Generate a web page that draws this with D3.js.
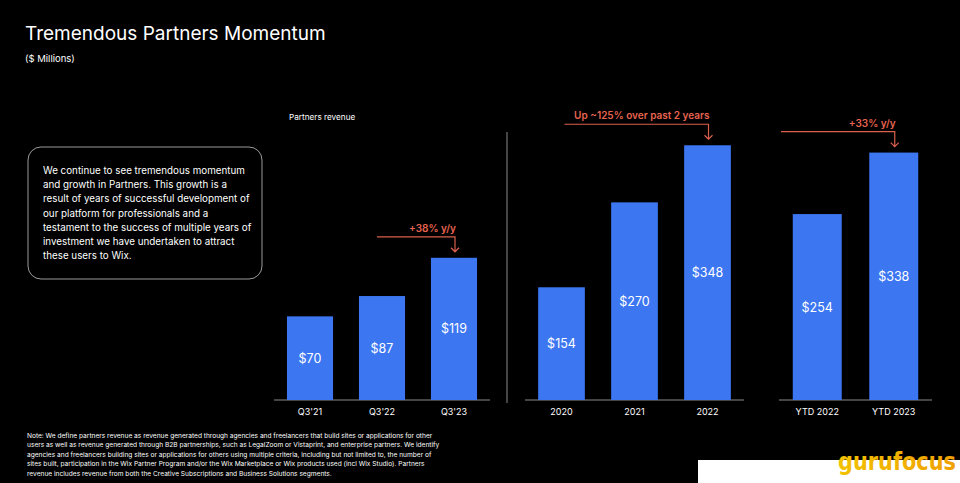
<!DOCTYPE html>
<html>
<head>
<meta charset="utf-8">
<title>Tremendous Partners Momentum</title>
<style>
  html, body { margin: 0; padding: 0; background: #000; }
  svg { font-family: Inter, "Open Sans", sans-serif; display: block; }
  .axis-line { stroke: #8a8a8a; stroke-width: 1.2; }
  .cat { fill: #fff; font-size: 9px; text-anchor: middle; }
  .val { fill: #fff; font-size: 12.5px; text-anchor: middle; }
  .anno { fill: #e8644f; font-size: 10px; font-weight: 600; text-anchor: end; }
  .anno-line { stroke: #d9604b; stroke-width: 1.2; fill: none; }
</style>
<script src="https://cdnjs.cloudflare.com/ajax/libs/d3/7.8.5/d3.min.js"></script>
</head>
<body>
<div id="chart"></div>
<script>
// data
var quarterCats = ["Q3'21", "Q3'22", "Q3'23"];
var quarterVals = [70, 87, 119];
var yearCats = ["2020", "2021", "2022"];
var yearVals = [154, 270, 348];
var ytdCats = ["YTD 2022", "YTD 2023"];
var ytdVals = [254, 338];

var boxLines = [
  "We continue to see tremendous momentum",
  "and growth in Partners. This growth is a",
  "result of years of successful development of",
  "our platform for professionals and a",
  "testament to the success of multiple years of",
  "investment we have undertaken to attract",
  "these users to Wix."
];
var noteLines = [
  "Note: We define partners revenue as revenue generated through agencies and freelancers that build sites or applications for other",
  "users as well as revenue generated through B2B partnerships, such as LegalZoom or Vistaprint, and enterprise partners. We identify",
  "agencies and freelancers building sites or applications for others using multiple criteria, including but not limited to, the number of",
  "sites built, participation in the Wix Partner Program and/or the Wix Marketplace or Wix products used (incl Wix Studio). Partners",
  "revenue includes revenue from both the Creative Subscriptions and Business Solutions segments."
];

var width = 960, height = 483;
var baseline = 400;
var barColor = "#3c76f1";

var svg = d3.select("#chart").append("svg")
  .attr("width", width)
  .attr("height", height);

svg.append("rect").attr("width", width).attr("height", height).attr("fill", "#000");

// title
svg.append("text")
  .attr("x", 25).attr("y", 40)
  .attr("fill", "#fff")
  .style("font-size", "19px")
  .text("Tremendous Partners Momentum");
svg.append("text")
  .attr("x", 25).attr("y", 62)
  .attr("fill", "#fff")
  .style("font-size", "9.5px")
  .text("($ Millions)");

// text box
svg.append("rect")
  .attr("x", 28).attr("y", 147)
  .attr("width", 234).attr("height", 132)
  .attr("rx", 13)
  .attr("fill", "none")
  .attr("stroke", "#9a9a9a")
  .attr("stroke-width", 1);

svg.append("g").selectAll("text")
  .data(boxLines).enter()
  .append("text")
  .attr("x", 43)
  .attr("y", (d, i) => 174 + i * 14.2)
  .attr("fill", "#fff")
  .style("font-size", "9.8px")
  .text(d => d);

svg.append("text")
  .attr("x", 289).attr("y", 120)
  .attr("fill", "#fff")
  .style("font-size", "8.2px")
  .text("Partners revenue");

// divider
svg.append("line")
  .attr("x1", 507).attr("x2", 507)
  .attr("y1", 132).attr("y2", 403)
  .attr("stroke", "#8a8a8a").attr("stroke-width", 1);

// scales
var yQuarter = d3.scaleLinear().domain([0, 100]).range([baseline, baseline - 119.5]);
var yYear = d3.scaleLinear().domain([0, 100]).range([baseline, baseline - 73.2]);

function drawPanel(cats, vals, range, y) {
  var x = d3.scaleBand().domain(cats).range(range).paddingInner(0.36).paddingOuter(0.18);
  var g = svg.append("g");
  g.append("line")
    .attr("class", "axis-line")
    .attr("x1", range[0]).attr("x2", range[1])
    .attr("y1", baseline).attr("y2", baseline);
  g.selectAll("rect.bar")
    .data(cats).enter()
    .append("rect")
    .attr("class", "bar")
    .attr("x", d => x(d))
    .attr("width", x.bandwidth())
    .attr("y", (d, i) => y(vals[i]))
    .attr("height", (d, i) => y(0) - y(vals[i]))
    .attr("fill", barColor);
  g.selectAll("text.val")
    .data(cats).enter()
    .append("text")
    .attr("class", "val")
    .attr("x", d => x(d) + x.bandwidth() / 2)
    .attr("y", (d, i) => (y(vals[i]) + y(0)) / 2 + 4.5)
    .text((d, i) => "$" + vals[i]);
  g.selectAll("text.cat")
    .data(cats).enter()
    .append("text")
    .attr("class", "cat")
    .attr("x", d => x(d) + x.bandwidth() / 2)
    .attr("y", baseline + 15)
    .text(d => d);
  return x;
}

function drawArrow(x, y, fromX, cat, val, label) {
  var ax = x(cat) + x.bandwidth() / 2 + 1;
  var top = y(val);
  var ly = top - 21, tip = top - 6;
  svg.append("path")
    .attr("class", "anno-line")
    .attr("d", `M${fromX},${ly}H${ax}V${tip}M${ax - 4},${tip - 4}L${ax},${tip}L${ax + 4},${tip - 4}`);
  svg.append("text")
    .attr("class", "anno")
    .attr("x", ax + 1)
    .attr("y", ly - 5)
    .text(label);
}

var xq = drawPanel(quarterCats, quarterVals, [274, 490], yQuarter);
var xy = drawPanel(yearCats, yearVals, [525, 744], yYear);
var xt = drawPanel(ytdCats, ytdVals, [779, 932], yYear);

drawArrow(xq, yQuarter, xq("Q3'22") + xq.bandwidth() / 2 - 5, "Q3'23", 119, "+38% y/y");
drawArrow(xy, yYear, xy("2020") + xy.bandwidth() / 2 + 3, "2022", 348, "Up ~125% over past 2 years");
drawArrow(xt, yYear, 781, "YTD 2023", 338, "+33% y/y");

// footnote
svg.append("g").selectAll("text")
  .data(noteLines).enter()
  .append("text")
  .attr("x", 27)
  .attr("y", (d, i) => 437.5 + i * 9.5)
  .attr("fill", "#ffffff")
  .style("font-size", "6.6px")
  .text(d => d);

// watermark
svg.append("rect")
  .attr("x", 698).attr("y", 460)
  .attr("width", 262).attr("height", 23)
  .attr("fill", "#fff");
var grad = svg.append("defs").append("linearGradient")
  .attr("id", "gf").attr("x1", "0").attr("x2", "1").attr("y1", "0").attr("y2", "0");
grad.append("stop").attr("offset", "0%").attr("stop-color", "#f2c200");
grad.append("stop").attr("offset", "100%").attr("stop-color", "#f0a000");
svg.append("text")
  .attr("x", 956).attr("y", 470)
  .attr("text-anchor", "end")
  .attr("fill", "url(#gf)")
  .style("font-size", "24px")
  .style("font-weight", "bold")
  .style("font-family", "'DejaVu Sans', sans-serif")
  .attr("textLength", 118)
  .attr("lengthAdjust", "spacingAndGlyphs")
  .text("gurufocus");
</script>
</body>
</html>
